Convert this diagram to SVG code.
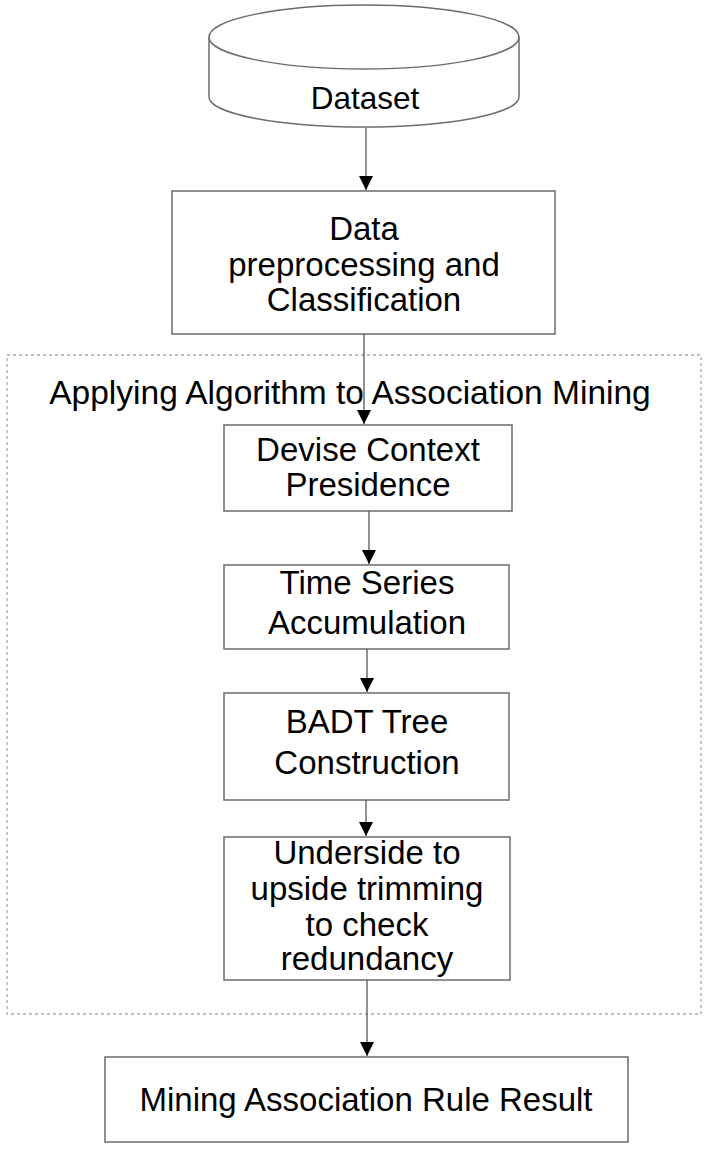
<svg xmlns="http://www.w3.org/2000/svg" width="708" height="1150" viewBox="0 0 708 1150">
<defs>
<style>
.box{fill:#fff;stroke:#6b6b6b;stroke-width:1.5}
.t{font-family:"Liberation Sans",Arial,sans-serif;font-size:33px;fill:#000;text-anchor:middle}
.c{stroke:#555;stroke-width:1.3;fill:none;marker-end:url(#ah)}
</style>
<marker id="ah" markerWidth="16" markerHeight="16" refX="14" refY="7" orient="auto" markerUnits="userSpaceOnUse">
<path d="M0,0 L14,7 L0,14 Z" fill="#000"/>
</marker>
</defs>
<rect x="7" y="355" width="694" height="659" fill="none" stroke="#aaa" stroke-width="1.3" stroke-dasharray="3,3"/>
<g id="dataset">
<path d="M209,37 L209,97 A155,30 0 0 0 519,97 L519,37" class="box"/>
<ellipse cx="364" cy="37" rx="155" ry="32" class="box"/>
<text class="t" x="365" y="109" style="font-size:31.5px">Dataset</text>
</g>
<g id="preprocessing">
<rect class="box" x="172" y="191" width="383" height="143"/>
<text class="t" x="364" y="240">Data</text>
<text class="t" x="364" y="276">preprocessing and</text>
<text class="t" x="364" y="311">Classification</text>
</g>
<g id="group-title">
<text class="t" x="350" y="404" style="font-size:33.5px">Applying Algorithm to Association Mining</text>
</g>
<g id="devise">
<rect class="box" x="224" y="425" width="288" height="86"/>
<text class="t" x="368" y="461">Devise Context</text>
<text class="t" x="368" y="496">Presidence</text>
</g>
<g id="timeseries">
<rect class="box" x="224" y="565" width="285" height="84"/>
<text class="t" x="367" y="594">Time Series</text>
<text class="t" x="367" y="634">Accumulation</text>
</g>
<g id="badt">
<rect class="box" x="224" y="693" width="285" height="107"/>
<text class="t" x="367" y="733">BADT Tree</text>
<text class="t" x="367" y="774">Construction</text>
</g>
<g id="underside">
<rect class="box" x="224" y="837" width="286" height="143"/>
<text class="t" x="367" y="864">Underside to</text>
<text class="t" x="367" y="900">upside trimming</text>
<text class="t" x="367" y="936">to check</text>
<text class="t" x="367" y="970">redundancy</text>
</g>
<g id="result">
<rect class="box" x="105" y="1057" width="523" height="85"/>
<text class="t" x="366" y="1111">Mining Association Rule Result</text>
</g>
<g id="connectors">
<line class="c" x1="366" y1="128" x2="366" y2="190"/>
<line class="c" x1="364" y1="334" x2="364" y2="424"/>
<line class="c" x1="369" y1="511" x2="369" y2="564"/>
<line class="c" x1="367" y1="649" x2="367" y2="692"/>
<line class="c" x1="366" y1="800" x2="366" y2="836"/>
<line class="c" x1="367" y1="980" x2="367" y2="1056"/>
</g>
</svg>
